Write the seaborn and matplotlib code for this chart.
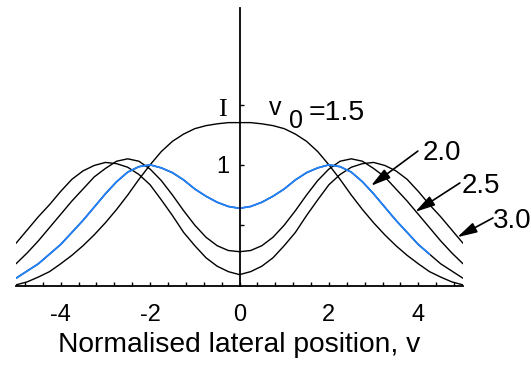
import numpy as np
import pandas as pd
import matplotlib
matplotlib.use("Agg")
import matplotlib.pyplot as plt
import seaborn as sns

# Lateral position grid (normalised units)
v = [-5.0, -4.75, -4.5, -4.25, -4.0, -3.75, -3.5, -3.25, -3.0, -2.75,
     -2.5, -2.25, -2.0, -1.75, -1.5, -1.25, -1.0, -0.75, -0.5, -0.25,
     0.0, 0.25, 0.5, 0.75, 1.0, 1.25, 1.5, 1.75, 2.0, 2.25,
     2.5, 2.75, 3.0, 3.25, 3.5, 3.75, 4.0, 4.25, 4.5, 4.75, 5.0]

# Image intensity of two points for each half-separation v0
I_15 = [0.005, 0.03, 0.07, 0.115, 0.18, 0.25, 0.33, 0.42, 0.52, 0.63,
        0.75, 0.88, 1.0, 1.11, 1.195, 1.255, 1.30, 1.325, 1.34, 1.35,
        1.35, 1.35, 1.34, 1.325, 1.30, 1.255, 1.195, 1.11, 1.0, 0.88,
        0.75, 0.63, 0.52, 0.42, 0.33, 0.25, 0.18, 0.115, 0.07, 0.03, 0.005]
I_20 = [0.06, 0.12, 0.18, 0.26, 0.34, 0.44, 0.54, 0.65, 0.76, 0.86,
        0.94, 0.985, 1.0, 0.975, 0.935, 0.875, 0.80, 0.74, 0.69, 0.655,
        0.64, 0.655, 0.69, 0.74, 0.80, 0.875, 0.935, 0.975, 1.0, 0.985,
        0.94, 0.86, 0.76, 0.65, 0.54, 0.44, 0.34, 0.26, 0.18, 0.12, 0.06]
I_25 = [0.18, 0.27, 0.37, 0.48, 0.59, 0.70, 0.80, 0.90, 0.97, 1.03,
        1.05, 1.03, 0.965, 0.87, 0.75, 0.62, 0.50, 0.40, 0.33, 0.29,
        0.28, 0.29, 0.33, 0.40, 0.50, 0.62, 0.75, 0.87, 0.965, 1.03,
        1.05, 1.03, 0.97, 0.90, 0.80, 0.70, 0.59, 0.48, 0.37, 0.27, 0.18]
I_30 = [0.35, 0.46, 0.57, 0.67, 0.78, 0.88, 0.95, 0.995, 1.02, 1.01,
        0.98, 0.92, 0.835, 0.71, 0.58, 0.44, 0.33, 0.23, 0.16, 0.115,
        0.09, 0.115, 0.16, 0.23, 0.33, 0.44, 0.58, 0.71, 0.835, 0.92,
        0.98, 1.01, 1.02, 0.995, 0.95, 0.88, 0.78, 0.67, 0.57, 0.46, 0.35]

separations = ["1.5", "2.0", "2.5", "3.0"]
curves = [I_15, I_20, I_25, I_30]

df = pd.concat(
    [pd.DataFrame({"v": v, "I": c, "v0": s}) for s, c in zip(separations, curves)],
    ignore_index=True,
)

sns.set_theme(style="ticks")
plt.rcParams["font.family"] = ["Liberation Sans", "DejaVu Sans"]
plt.rcParams["axes.unicode_minus"] = False
plt.rcParams["axes.edgecolor"] = "black"
plt.rcParams["xtick.color"] = "black"
plt.rcParams["ytick.color"] = "black"
plt.rcParams["text.color"] = "black"
plt.rcParams["axes.labelcolor"] = "black"

fig = plt.figure(figsize=(5.31, 3.66), dpi=100)
ax = fig.add_axes([16 / 531, 1 - 285.5 / 366, (463 - 16) / 531, (285.5 - 8) / 366])

sns.lineplot(data=df, x="v", y="I", hue="v0", palette=["black"] * 4,
             estimator=None, sort=False, legend=False, linewidth=1.0, ax=ax)

# the v0 = 2.0 curve is highlighted in blue over most of its extent
blue_part = df[(df["v0"] == "2.0") & (df["v"] <= 4.25)]
sns.lineplot(data=blue_part, x="v", y="I", color="#1f82ff", estimator=None,
             sort=False, legend=False, linewidth=1.3, ax=ax)

ax.set_xlim(-5, 5)
ax.set_ylim(0, 2.3)

for side in ["top", "right"]:
    ax.spines[side].set_visible(False)
ax.spines["left"].set_position(("data", 0))
ax.spines["left"].set_linewidth(1.3)
ax.spines["bottom"].set_linewidth(1.3)

ax.set_xticks([-4, -2, 0, 2, 4])
ax.set_xticklabels(["-4", "-2", "0", "2", "4"])
ax.set_xticks([round(0.4 * k, 1) for k in range(-12, 13)], minor=True)
ax.tick_params(axis="x", which="both", direction="in", length=3, width=1,
               pad=13, labelsize=17)

ax.set_yticks([0.5, 1.0, 1.5])
ax.set_yticklabels(["", "1", ""])
ax.tick_params(axis="y", which="both", direction="in", length=3, width=1,
               pad=7, labelsize=17)
ax.set_ylabel("")
ax.set_xlabel("Normalised lateral position, v", fontsize=20.3, labelpad=5)

ax.text(-0.39, 1.405, "I", family=["Liberation Serif", "DejaVu Serif"],
        fontsize=19, ha="center", va="baseline")

ax.text(0.66, 1.415, "v", fontsize=18, ha="left", va="baseline")
ax.text(1.11, 1.307, "0", fontsize=18, ha="left", va="baseline")
ax.text(1.55, 1.373, "=1.5", fontsize=20.5, ha="left", va="baseline")

arrow = dict(arrowstyle="-|>,head_length=0.75,head_width=0.2", color="black",
             lw=1.2, mutation_scale=16, shrinkA=0, shrinkB=0)
ax.annotate("", xy=(2.94, 0.826), xytext=(3.99, 1.114), arrowprops=arrow,
            annotation_clip=False)
ax.annotate("", xy=(3.93, 0.61), xytext=(4.93, 0.85), arrowprops=arrow,
            annotation_clip=False)
ax.annotate("", xy=(4.87, 0.40), xytext=(5.67, 0.56), arrowprops=arrow,
            annotation_clip=False)
ax.text(4.10, 1.04, "2.0", fontsize=20, ha="left", va="baseline", clip_on=False)
ax.text(4.98, 0.768, "2.5", fontsize=20, ha="left", va="baseline", clip_on=False)
ax.text(5.66, 0.477, "3.0", fontsize=20, ha="left", va="baseline", clip_on=False)

fig.savefig("out.png", dpi=100)
